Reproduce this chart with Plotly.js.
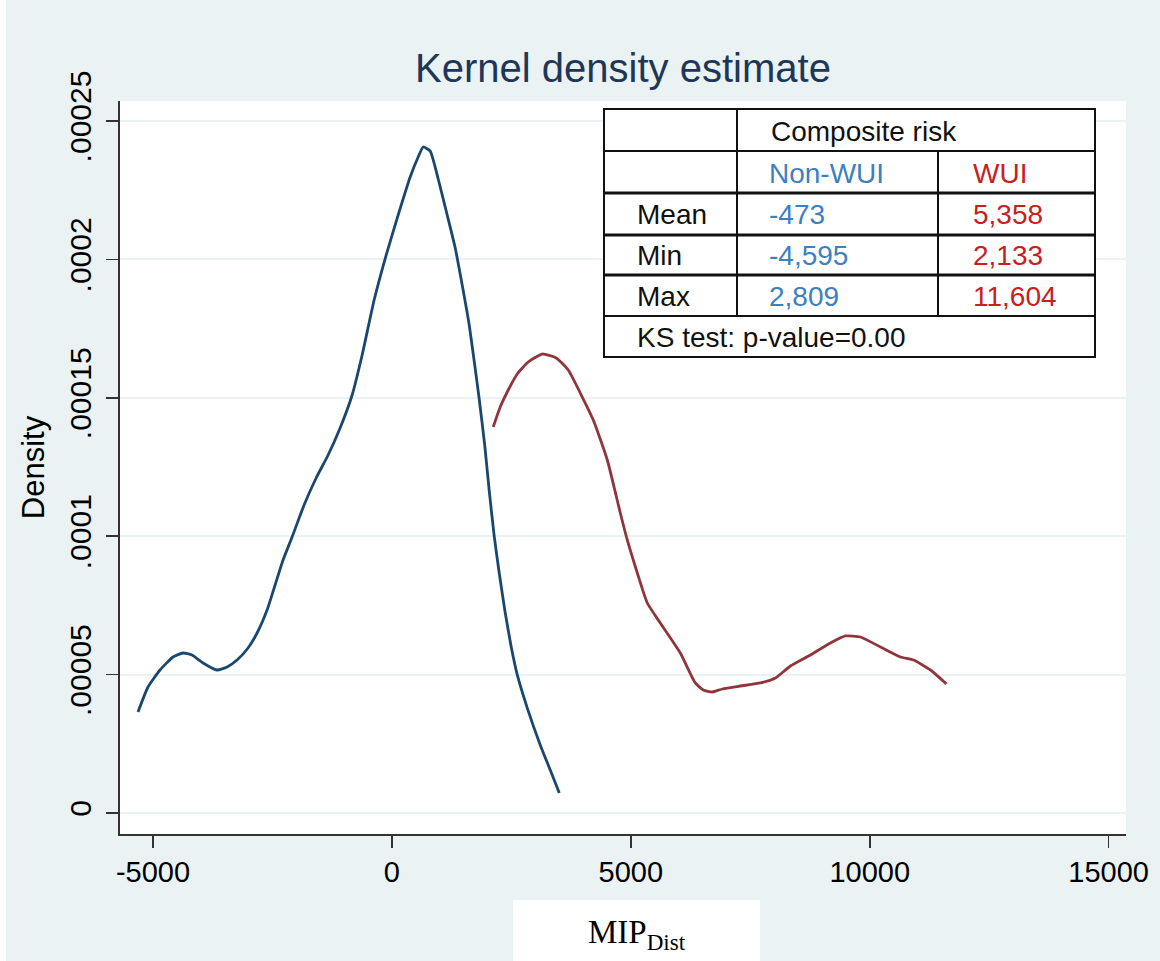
<!DOCTYPE html>
<html>
<head>
<meta charset="utf-8">
<script src="https://cdn.plot.ly/plotly-3.0.1.min.js"></script>
<style>html,body{margin:0;padding:0;background:#fff;}#chart{width:1160px;height:961px;}</style>
</head>
<body>
<div id="chart"></div>
<script>
// ---- data ----
const nonWuiX = [-5314,-5105,-4853,-4581,-4372,-4183,-3953,-3660,-3450,-3241,-3011,-2822,-2613,-2445,-2278,-2089,-1838,-1586,-1335,-1084,-832,-623,-372,-120,131,382,550,654,801,969,1157,1325,1471,1618,1733,1827,1942,2037,2141,2246,2372,2497,2623,2832,3104,3314,3503];
const nonWuiY = [3.649e-5,4.552e-5,5.166e-5,5.636e-5,5.780e-5,5.708e-5,5.419e-5,5.166e-5,5.275e-5,5.527e-5,5.961e-5,6.503e-5,7.334e-5,8.237e-5,9.140e-5,9.971e-5,1.1127e-4,1.2103e-4,1.2934e-4,1.3909e-4,1.5101e-4,1.6546e-4,1.8533e-4,2.0159e-4,2.1604e-4,2.2977e-4,2.3700e-4,2.4061e-4,2.3916e-4,2.2905e-4,2.1604e-4,2.0412e-4,1.9075e-4,1.7630e-4,1.6185e-4,1.4957e-4,1.3295e-4,1.1634e-4,1.0000e-4,8.671e-5,7.226e-5,6.000e-5,5.000e-5,3.800e-5,2.460e-5,1.550e-5,7.20e-6];
const wuiX = [2120,2267,2435,2623,2853,3146,3439,3691,3942,4214,4508,4780,4926,5136,5345,5617,6036,6350,6518,6706,6916,7293,7712,8026,8340,8759,9178,9492,9806,10225,10644,10916,11272,11607];
const wuiY = [1.3945e-4,1.4668e-4,1.5282e-4,1.5860e-4,1.6293e-4,1.6582e-4,1.6438e-4,1.6004e-4,1.5173e-4,1.4198e-4,1.2753e-4,1.0838e-4,9.863e-5,8.671e-5,7.587e-5,6.864e-5,5.780e-5,4.697e-5,4.444e-5,4.371e-5,4.480e-5,4.588e-5,4.697e-5,4.877e-5,5.311e-5,5.708e-5,6.142e-5,6.395e-5,6.358e-5,5.997e-5,5.636e-5,5.527e-5,5.166e-5,4.660e-5];
const xTickVals = [-5000,0,5000,10000,15000];
const xTickText = ['-5000','0','5000','10000','15000'];
const yTickVals = [0,0.00005,0.0001,0.00015,0.0002,0.00025];
const yTickText = ['0','.00005','.0001','.00015','.0002','.00025'];
const tableGroupTitle = 'Composite risk';
const seriesNames = ['Non-WUI','WUI'];
const statLabels = ['Mean','Min','Max'];
const nonWuiStats = ['-473','-4,595','2,809'];
const wuiStats = ['5,358','2,133','11,604'];
const testNote = 'KS test: p-value=0.00';

// ---- geometry helpers (pixel -> paper) ----
const W = 1160, H = 961;
const mL = 120, mR = 34, mT = 101, mB = 127;
const pw = W - mL - mR, ph = H - mT - mB;
const px = x => (x - mL) / pw;
const py = y => (H - mB - y) / ph;

const BLUE = '#1a476f', RED = '#90353b';
const TBLUE = '#3d7fc3', TRED = '#c8201e';
const BG = '#eaf2f3';

const traces = [
  {x: nonWuiX, y: nonWuiY, type: 'scatter', mode: 'lines', name: seriesNames[0],
   line: {color: BLUE, width: 2.8, shape: 'spline', smoothing: 0.5}},
  {x: wuiX, y: wuiY, type: 'scatter', mode: 'lines', name: seriesNames[1],
   line: {color: RED, width: 2.8, shape: 'spline', smoothing: 0.5}}
];

// table geometry (pixels)
const tL = 604, tR = 1095, tTop = 109, tBot = 357;
const c1 = 737, c2 = 938;
const rowLines = [151, 193, 235, 275, 316];
const rowW = [2, 3, 3, 3, 2];

const shapes = [];
shapes.push({type:'rect', xref:'paper', yref:'paper', x0: px(0), x1: px(6), y0: py(H), y1: py(0),
  fillcolor:'#ffffff', line:{width:0}, layer:'below'});
shapes.push({type:'rect', xref:'paper', yref:'paper', x0: px(tL), x1: px(tR), y0: py(tBot), y1: py(tTop),
  fillcolor:'#ffffff', line:{color:'#111', width:2}, layer:'above'});
rowLines.forEach((r,i)=>shapes.push({type:'line', xref:'paper', yref:'paper', x0: px(tL), x1: px(tR), y0: py(r), y1: py(r),
  line:{color:'#111', width: rowW[i]}, layer:'above'}));
shapes.push({type:'line', xref:'paper', yref:'paper', x0: px(c1), x1: px(c1), y0: py(tTop), y1: py(316), line:{color:'#111', width:2}, layer:'above'});
shapes.push({type:'line', xref:'paper', yref:'paper', x0: px(c2), x1: px(c2), y0: py(151), y1: py(316), line:{color:'#111', width:2}, layer:'above'});
// white box behind x-axis title
shapes.push({type:'rect', xref:'paper', yref:'paper', x0: px(513), x1: px(760), y0: py(H), y1: py(900),
  fillcolor:'#ffffff', line:{width:0}, layer:'above'});

const TF = 'Liberation Sans, Arial, sans-serif';
const tfs = 28;
const ann = [];
function addText(text, x, y, color) {
  ann.push({text: text, xref:'paper', yref:'paper', x: px(x), y: py(y), xanchor:'left', yanchor:'middle',
    showarrow:false, font:{family: TF, size: tfs, color: color}});
}
addText(tableGroupTitle, 769, 131, '#111');
addText(seriesNames[0], 767, 173, TBLUE);
addText(seriesNames[1], 971, 173, TRED);
const rowCenters = [214, 255, 296];
statLabels.forEach((s,i)=>{
  addText(s, 635, rowCenters[i], '#111');
  addText(nonWuiStats[i], 767, rowCenters[i], TBLUE);
  addText(wuiStats[i], 971, rowCenters[i], TRED);
});
addText(testNote, 635, 337, '#111');
ann.push({text:'MIP<sub>Dist</sub>', xref:'paper', yref:'paper', x: px(637), y: py(934), xanchor:'center', yanchor:'middle',
  showarrow:false, font:{family:'Liberation Serif, Times New Roman, serif', size: 33, color:'#000'}});

const layout = {
  width: W, height: H, autosize: false,
  margin: {l: mL, r: mR, t: mT, b: mB, pad: 0},
  paper_bgcolor: BG, plot_bgcolor: '#ffffff',
  showlegend: false,
  title: {text: 'Kernel density estimate', x: 0.5, xref: 'paper', xanchor: 'center',
    y: 1 - 68/H, yref: 'container', yanchor: 'middle',
    font: {family: TF, size: 40, color: '#1e3658'}},
  xaxis: {range: [-5691, 15364], tickvals: xTickVals, ticktext: xTickText,
    showgrid: false, zeroline: false, showline: true, linecolor: '#333', linewidth: 1.6,
    ticks: 'outside', ticklen: 12, tickwidth: 1.6, tickcolor: '#333', ticklabelstandoff: 0,
    tickfont: {family: TF, size: 29, color: '#000'}, fixedrange: true},
  yaxis: {range: [-7.59e-6, 2.5723e-4], tickvals: yTickVals, ticktext: yTickText, tickangle: -90,
    showgrid: true, gridcolor: BG, gridwidth: 2, zeroline: false,
    showline: true, linecolor: '#333', linewidth: 1.6,
    ticks: 'outside', ticklen: 12, tickwidth: 1.6, tickcolor: '#333', ticklabelstandoff: 3,
    tickfont: {family: TF, size: 30, color: '#000'},
    title: {text: 'Density', standoff: 10, font: {family: TF, size: 31, color: '#000'}}, fixedrange: true},
  shapes: shapes,
  annotations: ann
};
Plotly.newPlot('chart', traces, layout, {staticPlot: true, displayModeBar: false});
</script>
</body>
</html>
